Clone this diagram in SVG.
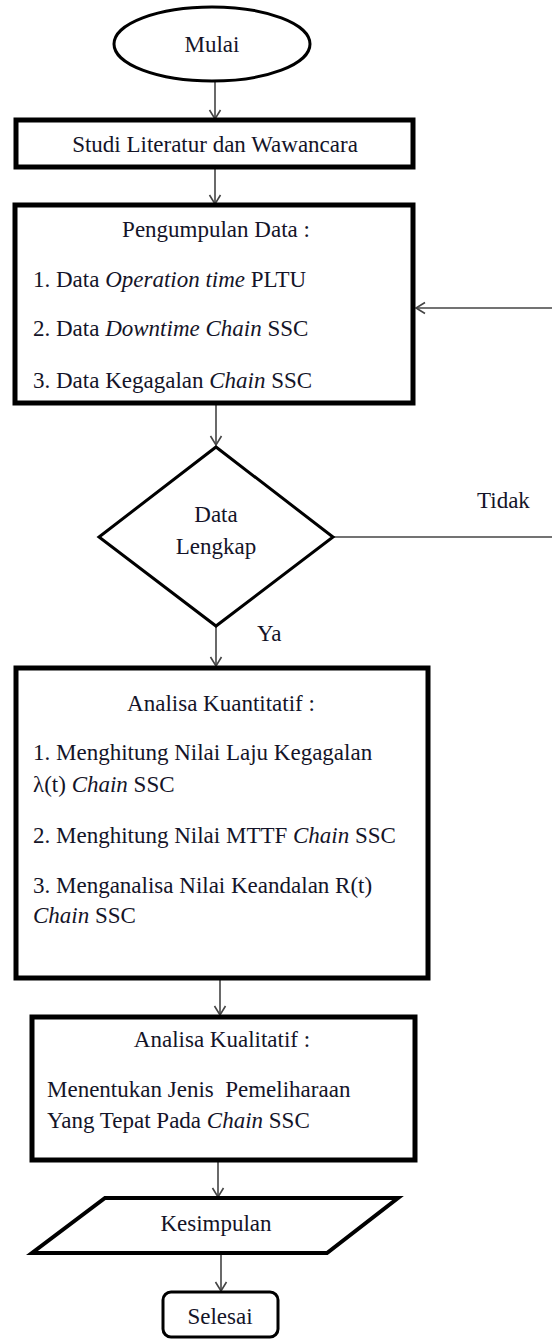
<svg xmlns="http://www.w3.org/2000/svg" width="552" height="1340" viewBox="0 0 552 1340" font-family="Liberation Serif, Times New Roman, serif">
<style>
text{font-family:"Liberation Serif","Times New Roman",serif;font-size:23px;fill:#141428}
.c{text-anchor:middle}
.i{font-style:italic}
.box{fill:#fff;stroke:#000;stroke-width:5}
.thin{fill:#fff;stroke:#000;stroke-width:3}
.ln{fill:none;stroke:#444;stroke-width:1.6}
</style>
<defs>
<marker id="ah" markerUnits="userSpaceOnUse" markerWidth="14" markerHeight="14" refX="10" refY="7" orient="auto">
<path d="M1,1.5 L10,7 L1,12.5" fill="none" stroke="#444" stroke-width="1.6"/>
</marker>
</defs>
<g id="connectors">
<line class="ln" x1="215" y1="81" x2="215" y2="119" marker-end="url(#ah)"/>
<line class="ln" x1="215" y1="168" x2="215" y2="204" marker-end="url(#ah)"/>
<line class="ln" x1="216" y1="404" x2="216" y2="445" marker-end="url(#ah)"/>
<line class="ln" x1="333" y1="537" x2="552" y2="537"/>
<line class="ln" x1="552" y1="308" x2="416" y2="308" marker-end="url(#ah)"/>
<line class="ln" x1="216" y1="626" x2="216" y2="666" marker-end="url(#ah)"/>
<line class="ln" x1="220" y1="980" x2="220" y2="1015" marker-end="url(#ah)"/>
<line class="ln" x1="218" y1="1162" x2="218" y2="1197" marker-end="url(#ah)"/>
<line class="ln" x1="221" y1="1254" x2="221" y2="1291" marker-end="url(#ah)"/>
<text x="477" y="508">Tidak</text>
<text x="257" y="641">Ya</text>
</g>
<g id="mulai">
<ellipse class="thin" cx="212" cy="44" rx="98" ry="37"/>
<text class="c" x="212" y="52">Mulai</text>
</g>
<g id="studi">
<rect class="box" x="16" y="120" width="397" height="47"/>
<text class="c" x="215" y="152">Studi Literatur dan Wawancara</text>
</g>
<g id="pengumpulan">
<rect class="box" x="15" y="205" width="398" height="198"/>
<text class="c" x="216" y="237">Pengumpulan Data :</text>
<text x="33" y="287">1. Data <tspan class="i">Operation time</tspan> PLTU</text>
<text x="33" y="336">2. Data <tspan class="i">Downtime Chain</tspan> SSC</text>
<text x="33" y="388">3. Data Kegagalan <tspan class="i">Chain</tspan> SSC</text>
</g>
<g id="keputusan">
<polygon class="thin" points="216,447 333,537 216,626 99,537"/>
<text class="c" x="216" y="522">Data</text>
<text class="c" x="216" y="554">Lengkap</text>
</g>
<g id="kuantitatif">
<rect class="box" x="16" y="668" width="412" height="310"/>
<text class="c" x="221" y="711">Analisa Kuantitatif :</text>
<text x="33" y="760">1. Menghitung Nilai Laju Kegagalan</text>
<text x="33" y="792">λ(t) <tspan class="i">Chain</tspan> SSC</text>
<text x="33" y="843">2. Menghitung Nilai MTTF <tspan class="i">Chain</tspan> SSC</text>
<text x="33" y="893">3. Menganalisa Nilai Keandalan R(t)</text>
<text x="33" y="923"><tspan class="i">Chain</tspan> SSC</text>
</g>
<g id="kualitatif">
<rect class="box" x="32" y="1017" width="383" height="143"/>
<text class="c" x="222" y="1047">Analisa Kualitatif :</text>
<text x="47" y="1097" xml:space="preserve">Menentukan Jenis  Pemeliharaan</text>
<text x="47" y="1128">Yang Tepat Pada <tspan class="i">Chain</tspan> SSC</text>
</g>
<g id="kesimpulan">
<polygon class="thin" style="stroke-width:4" points="105,1198 398,1198 327,1253 32,1253"/>
<text class="c" x="216" y="1231">Kesimpulan</text>
</g>
<g id="selesai">
<rect class="thin" x="163" y="1292" width="115" height="45" rx="8"/>
<text class="c" x="220" y="1324">Selesai</text>
</g>
</svg>
